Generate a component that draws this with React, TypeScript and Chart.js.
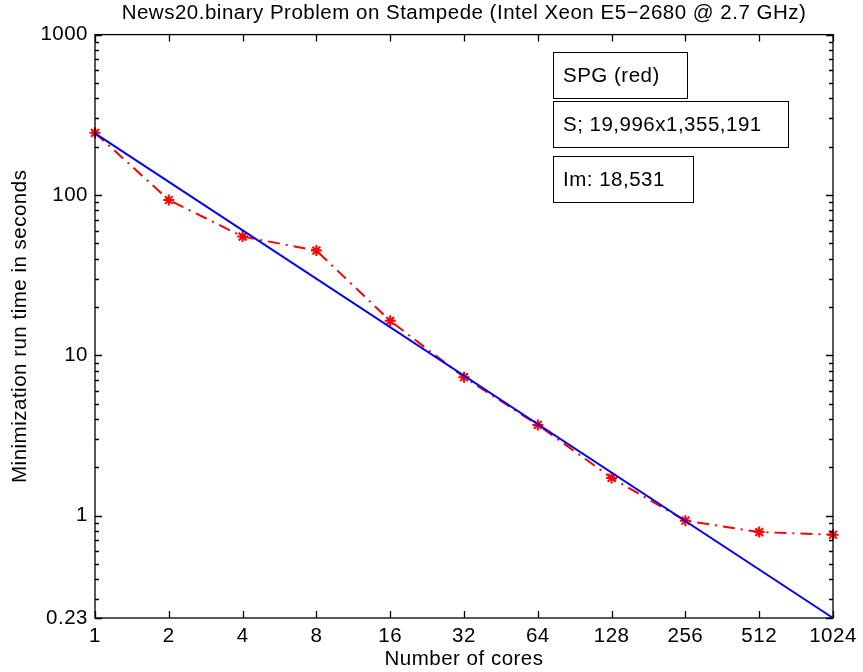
import React, { useEffect, useRef } from "react";
import { Chart, registerables } from "chart.js";

Chart.register(...registerables);

const TITLE = "News20.binary Problem on Stampede (Intel Xeon E5\u22122680 @ 2.7 GHz)";
const X_LABEL = "Number of cores";
const Y_LABEL = "Minimization run time in seconds";

const CORES = [1, 2, 4, 8, 16, 32, 64, 128, 256, 512, 1024];
const SPG_TIMES = [244, 93, 55, 45, 16.4, 7.3, 3.68, 1.72, 0.93, 0.79, 0.76];

const IDEAL_CORES = [1, 1024];
const IDEAL_TIMES = [242, 0.23];

const X_TICKS = [1, 2, 4, 8, 16, 32, 64, 128, 256, 512, 1024];
const Y_TICKS = [0.23, 1, 10, 100, 1000];

const NOTES = ["SPG (red)", "S; 19,996x1,355,191", "Im: 18,531"];

const FONT_FAMILY = "'Liberation Sans', Arial, Helvetica, sans-serif";
const FONT_SIZE = 20.5;
const FONT = { family: FONT_FAMILY, size: FONT_SIZE };
const SPACING = "0.5px";

const axesPlugin = {
  id: "matlabAxes",
  beforeUpdate(chart: any) {
    chart.ctx.letterSpacing = SPACING;
  },
  beforeDraw(chart: any) {
    chart.ctx.letterSpacing = SPACING;
  },
  afterDraw(chart: any) {
    const { ctx, chartArea, scales } = chart;
    const { left, right, top, bottom } = chartArea;
    const x = scales.x;
    const y = scales.y;
    ctx.save();
    ctx.strokeStyle = "#000";
    ctx.lineWidth = 1.3;
    ctx.setLineDash([]);
    ctx.strokeRect(left, top, right - left, bottom - top);
    ctx.beginPath();
    X_TICKS.forEach((v) => {
      const px = Math.round(x.getPixelForValue(v)) + 0.5;
      ctx.moveTo(px, bottom);
      ctx.lineTo(px, bottom - 7);
      ctx.moveTo(px, top);
      ctx.lineTo(px, top + 7);
    });
    Y_TICKS.forEach((v) => {
      const py = Math.round(y.getPixelForValue(v)) + 0.5;
      ctx.moveTo(left, py);
      ctx.lineTo(left + 7, py);
      ctx.moveTo(right, py);
      ctx.lineTo(right - 7, py);
    });
    for (let d = -1; d <= 2; d++) {
      for (let m = 2; m <= 9; m++) {
        const v = m * Math.pow(10, d);
        if (v <= y.min || v >= y.max) continue;
        const py = Math.round(y.getPixelForValue(v)) + 0.5;
        ctx.moveTo(left, py);
        ctx.lineTo(left + 4, py);
        ctx.moveTo(right, py);
        ctx.lineTo(right - 4, py);
      }
    }
    ctx.stroke();

    // annotation text boxes
    const boxLeft = 553;
    const boxTops = [52, 101, 156];
    const boxWidths = [134, 235, 140];
    const boxH = 46;
    ctx.font = `${FONT_SIZE}px ${FONT_FAMILY}`;
    ctx.letterSpacing = SPACING;
    ctx.textBaseline = "middle";
    ctx.textAlign = "left";
    ctx.lineWidth = 1;
    NOTES.forEach((t, i) => {
      ctx.fillStyle = "#fff";
      ctx.fillRect(boxLeft, boxTops[i], boxWidths[i], boxH);
      ctx.strokeRect(boxLeft + 0.5, boxTops[i] + 0.5, boxWidths[i], boxH);
      ctx.fillStyle = "#000";
      ctx.fillText(t, boxLeft + 10, boxTops[i] + boxH / 2 + 1);
    });
    ctx.restore();
  },
};

export default function App() {
  const ref = useRef<HTMLCanvasElement | null>(null);

  useEffect(() => {
    if (!ref.current) return;
    const chart = new Chart(ref.current, {
      type: "line",
      data: {
        datasets: [
          {
            label: "Ideal",
            data: IDEAL_CORES.map((c, i) => ({ x: c, y: IDEAL_TIMES[i] })),
            borderColor: "#0000ff",
            borderWidth: 2,
            pointRadius: 0,
            fill: false,
            clip: false as any,
          },
          {
            label: "SPG",
            data: CORES.map((c, i) => ({ x: c, y: SPG_TIMES[i] })),
            borderColor: "#ff0000",
            backgroundColor: "#ff0000",
            borderWidth: 2,
            borderDash: [12, 6, 2, 6],
            pointStyle: "star",
            pointRadius: 5.5,
            pointBorderWidth: 2,
            pointBorderColor: "#ff0000",
            pointBackgroundColor: "#ff0000",
            fill: false,
            clip: false as any,
          },
        ],
      },
      options: {
        animation: false,
        responsive: false,
        devicePixelRatio: 1,
        layout: { padding: { left: 0, right: 30, top: 0, bottom: 0 } },
        plugins: {
          legend: { display: false },
          tooltip: { enabled: false },
          title: {
            display: true,
            text: TITLE,
            color: "#000",
            font: { ...FONT, weight: "normal" },
            padding: { top: 1, bottom: 9 },
            fullSize: false,
          },
        },
        scales: {
          x: {
            type: "logarithmic",
            min: 1,
            max: 1024,
            afterBuildTicks: (s: any) => {
              s.ticks = X_TICKS.map((v) => ({ value: v }));
            },
            afterFit: (s: any) => {
              s.height = 54;
            },
            ticks: {
              callback: (v: any) => String(v),
              color: "#000",
              font: FONT,
              padding: 6,
              maxRotation: 0,
              autoSkip: false,
            },
            grid: { display: false, drawTicks: false },
            border: { display: false },
            title: {
              display: true,
              text: X_LABEL,
              color: "#000",
              font: FONT,
              padding: { top: 0, bottom: 0 },
            },
          },
          y: {
            type: "logarithmic",
            min: 0.23,
            max: 1000,
            afterBuildTicks: (s: any) => {
              s.ticks = Y_TICKS.map((v) => ({ value: v }));
            },
            afterFit: (s: any) => {
              s.width = 95;
            },
            ticks: {
              callback: (v: any) => String(v),
              color: "#000",
              font: FONT,
              padding: 7,
              autoSkip: false,
            },
            grid: { display: false, drawTicks: false },
            border: { display: false },
            title: {
              display: true,
              text: Y_LABEL,
              color: "#000",
              font: FONT,
              padding: { top: 8, bottom: 0 },
            },
          },
        },
      },
      plugins: [axesPlugin],
    } as any);
    return () => chart.destroy();
  }, []);

  return (
    <div style={{ position: "fixed", left: 0, top: 0, width: 863, height: 672, background: "#fff" }}>
      <canvas ref={ref} width={863} height={672} style={{ display: "block" }} />
    </div>
  );
}
